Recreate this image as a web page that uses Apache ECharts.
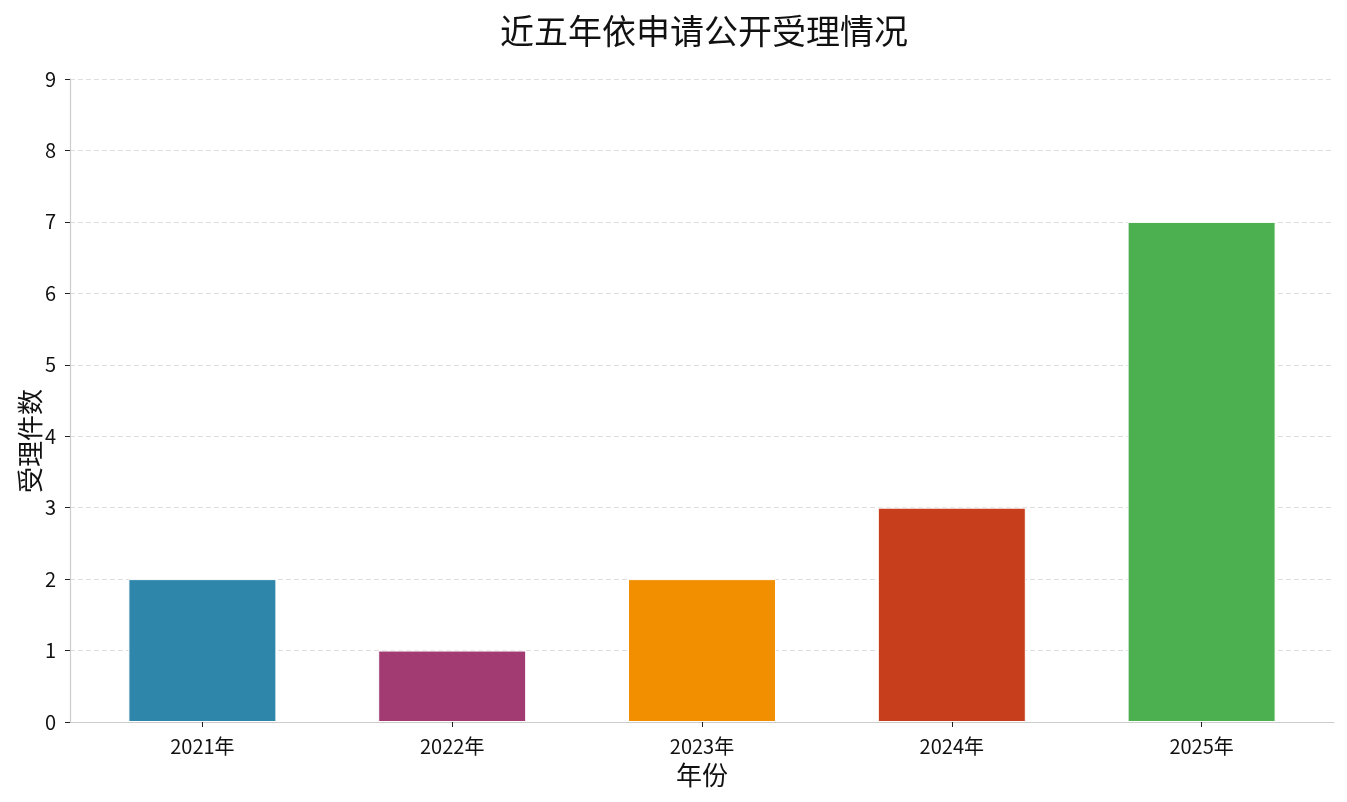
<!DOCTYPE html>
<html>
<head>
<meta charset="utf-8">
<script src="https://cdn.jsdelivr.net/npm/echarts@6/dist/echarts.min.js"></script>
<style>
html,body{margin:0;padding:0;background:#fff;}
#chart{width:1347px;height:802px;}
</style>
</head>
<body>
<div id="chart"></div>
<script>
const categories = ['2021年', '2022年', '2023年', '2024年', '2025年'];
const counts = [2, 1, 2, 3, 7];
const barColors = ['#2E86AB', '#A23B72', '#F18F01', '#C73E1D', '#4CAF50'];
const yTicks = [0, 1, 2, 3, 4, 5, 6, 7, 8, 9];
const titleText = '近五年依申请公开受理情况';
const xName = '年份';
const yName = '受理件数';

const FONT = '"Noto Sans CJK SC", "DejaVu Sans", sans-serif';
const positions = categories.map((c, i) => i);

const chart = echarts.init(document.getElementById('chart'));
chart.setOption({
  backgroundColor: '#fff',
  animation: false,
  title: {
    text: titleText,
    left: 495,
    top: 9,
    textStyle: { fontFamily: FONT, fontSize: 34, fontWeight: 'normal', color: '#111' }
  },
  grid: { left: 70, right: 13, top: 79, bottom: 80, containLabel: false },
  xAxis: {
    type: 'value',
    min: -0.53,
    max: 4.53,
    name: xName,
    nameLocation: 'middle',
    nameGap: 40,
    nameTextStyle: { fontFamily: FONT, fontSize: 26, color: '#111' },
    axisLine: { show: true, onZero: false, lineStyle: { color: '#cccccc', width: 1.2 } },
    axisTick: { show: true, customValues: positions, length: 5, lineStyle: { color: '#222' } },
    axisLabel: {
      customValues: positions,
      margin: 14,
      fontFamily: FONT, fontSize: 20, color: '#111',
      formatter: v => categories[Math.round(v)] || ''
    },
    splitLine: { show: false }
  },
  yAxis: {
    type: 'value',
    min: 0,
    max: 9,
    interval: 1,
    axisLine: { show: true, onZero: false, lineStyle: { color: '#cccccc', width: 1.2 } },
    axisTick: { show: true, length: 5, lineStyle: { color: '#222' } },
    axisLabel: {
      margin: 14, fontFamily: FONT, fontSize: 20, color: '#111',
      formatter: v => yTicks.includes(v) ? String(v) : ''
    },
    splitLine: { show: true, lineStyle: { color: '#dddddd', type: [5, 3], width: 1.2 } }
  },
  graphic: [{
    type: 'text',
    x: 30,
    y: 441,
    rotation: Math.PI / 2,
    style: {
      text: yName,
      fontFamily: FONT, fontSize: 26, fill: '#111',
      align: 'center', verticalAlign: 'middle'
    }
  }],
  series: [{
    type: 'bar',
    barWidth: 148,
    data: counts.map((v, i) => ({
      value: [positions[i], v],
      itemStyle: { color: barColors[i], borderColor: '#ffffff', borderWidth: 1 }
    }))
  }]
});
</script>
</body>
</html>
